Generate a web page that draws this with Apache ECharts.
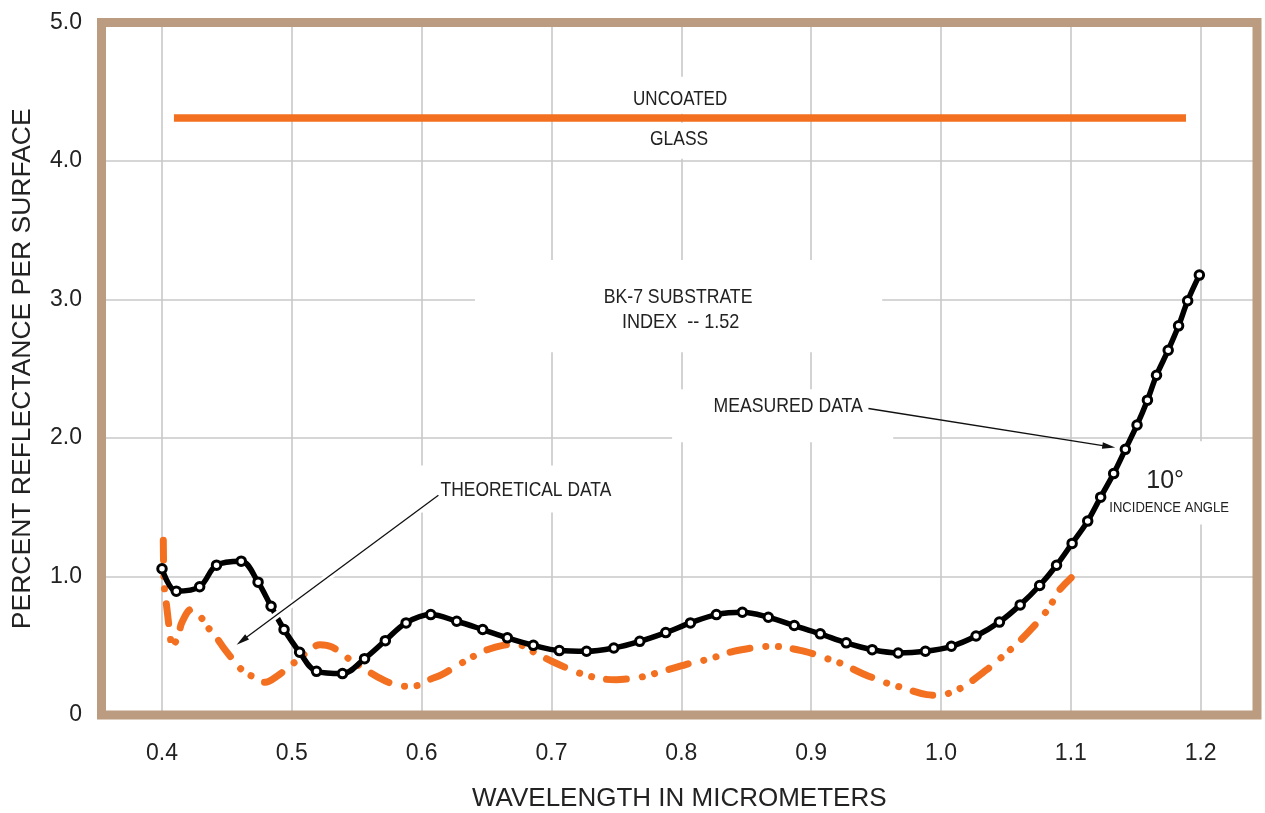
<!DOCTYPE html>
<html><head><meta charset="utf-8">
<script src="https://cdn.jsdelivr.net/npm/echarts@6/dist/echarts.min.js"></script>
<style>html,body{margin:0;padding:0;background:#fff}#c{width:1265px;height:813px}</style>
</head><body><div id="c"></div>
<script>
// ---- data ----
const xTicks = [0.4, 0.5, 0.6, 0.7, 0.8, 0.9, 1.0, 1.1, 1.2];
const yTicks = [0, 1, 2, 3, 4, 5];
const measuredX = [0.400,0.411,0.429,0.442,0.461,0.474,0.484,0.494,0.506,0.519,0.539,0.556,0.572,0.588,0.607,0.627,0.647,0.666,0.686,0.706,0.727,0.748,0.768,0.788,0.807,0.827,0.847,0.867,0.887,0.907,0.927,0.947,0.967,0.988,1.008,1.027,1.045,1.061,1.076,1.089,1.101,1.113,1.123,1.133,1.142,1.151,1.159,1.166,1.175,1.183,1.190,1.199];
const measuredY = [1.056,0.894,0.926,1.082,1.111,0.959,0.785,0.617,0.453,0.315,0.299,0.407,0.537,0.665,0.725,0.677,0.617,0.557,0.503,0.465,0.460,0.484,0.532,0.595,0.665,0.725,0.742,0.706,0.646,0.586,0.521,0.472,0.448,0.460,0.496,0.570,0.671,0.795,0.935,1.081,1.239,1.400,1.573,1.743,1.918,2.094,2.273,2.453,2.634,2.810,2.991,3.176];
const theoryX = [0.4010,0.4015,0.4023,0.4036,0.4062,0.4079,0.4126,0.4152,0.4225,0.4300,0.4357,0.4421,0.4485,0.4626,0.4696,0.4794,0.4884,0.5063,0.5127,0.5217,0.5307,0.5448,0.5577,0.5666,0.5757,0.5857,0.5962,0.6059,0.6155,0.6244,0.6424,0.6522,0.6617,0.6720,0.6912,0.7002,0.7105,0.7195,0.7400,0.7498,0.7600,0.7696,0.7901,0.8004,0.8093,0.8196,0.8401,0.8499,0.8607,0.8710,0.8915,0.9013,0.9108,0.9210,0.9416,0.9501,0.9596,0.9686,0.9891,0.9994,1.0096,1.0186,1.0354,1.0431,1.0520,1.0597,1.0739,1.0803,1.0862,1.0905,1.1003];
const theoryY = [1.262,0.964,0.877,0.783,0.581,0.496,0.573,0.665,0.762,0.705,0.629,0.557,0.472,0.315,0.279,0.236,0.279,0.412,0.460,0.508,0.492,0.400,0.322,0.272,0.231,0.208,0.212,0.255,0.291,0.340,0.436,0.477,0.501,0.512,0.429,0.388,0.344,0.308,0.260,0.255,0.262,0.275,0.328,0.356,0.380,0.400,0.460,0.477,0.492,0.496,0.467,0.443,0.412,0.380,0.291,0.260,0.226,0.202,0.147,0.142,0.171,0.212,0.328,0.388,0.460,0.525,0.665,0.738,0.821,0.894,0.991];
const uncoatedX = [0.4092, 1.1887];
const uncoatedY = [4.31, 4.31];

// ---- layout / annotations (data coordinates) ----
const X_MIN = 0.3534, X_MAX = 1.2434;
const FONT = "'Liberation Sans', Arial, sans-serif";
const TXT = '#222';
const ORANGE = '#f37021';
const notes = [
  {t:'UNCOATED', x:0.7991, y:4.443, s:21, k:0.81},
  {t:'GLASS', x:0.7983, y:4.160, s:21, k:0.83},
  {t:'BK-7 SUBSTRATE', x:0.7975, y:3.015, s:21, k:0.84},
  {t:'INDEX  -- 1.52', x:0.7995, y:2.833, s:21, k:0.86},
  {t:'MEASURED DATA', x:0.8823, y:2.231, s:21, k:0.84},
  {t:'THEORETICAL DATA', x:0.6803, y:1.625, s:21, k:0.83},
  {t:'10°', x:1.1727, y:1.689, s:25, k:1.0},
  {t:'INCIDENCE ANGLE', x:1.1757, y:1.494, s:15, k:0.87}
];
const boxes = [
  [0.7529,0.8468,4.608,4.341],
  [0.7644,0.8337,4.276,4.016],
  [0.6411,0.9547,3.285,2.620],
  [0.7929,0.9632,2.352,1.969],
  [0.5926,0.7606,1.801,1.462],
  [1.1265,1.2282,1.976,1.376]
];
const arrows = [
  {from:[0.9441,2.213], to:[1.1342,1.931], halo:false},
  {from:[0.6129,1.586], to:[0.4575,0.508], halo:true}
];

const zip = (a, b) => a.map((v, i) => [v, b[i]]);
const chart = echarts.init(document.getElementById('c'), null, {renderer:'canvas'});

const option = {
  animation: false,
  backgroundColor: '#fff',
  grid: {left: 101.5, right: 8, top: 22.5, bottom: 98, show: false, containLabel: false, outerBoundsMode: 'none'},
  xAxis: {
    type: 'value', min: X_MIN, max: X_MAX,
    name: 'WAVELENGTH IN MICROMETERS', nameLocation: 'middle', nameGap: 71,
    nameTextStyle: {fontSize: 26, color: TXT, fontFamily: FONT},
    axisLine: {show: false},
    axisTick: {show: false, customValues: xTicks},
    axisLabel: {customValues: xTicks, formatter: v => v.toFixed(1), margin: 27, fontSize: 23, color: TXT, fontFamily: FONT},
    splitLine: {show: true, lineStyle: {color: '#c8c8c8', width: 1.6}}
  },
  yAxis: {
    type: 'value', min: 0, max: 5, interval: 1,
    name: 'PERCENT REFLECTANCE PER SURFACE', nameLocation: 'middle', nameGap: 65,
    nameTextStyle: {fontSize: 26.5, color: TXT, fontFamily: FONT},
    axisLine: {show: false}, axisTick: {show: false},
    axisLabel: {formatter: v => v === 0 ? '0' : v.toFixed(1), margin: 19.5, fontSize: 23, color: TXT, fontFamily: FONT},
    splitLine: {show: true, showMinLine: false, showMaxLine: false, lineStyle: {color: '#c8c8c8', width: 1.6}}
  },
  series: [
    {
      name: 'Uncoated glass', type: 'line', z: 2, silent: true,
      data: zip(uncoatedX, uncoatedY), symbol: 'none',
      lineStyle: {color: ORANGE, width: 7.5, cap: 'butt'}
    },
    {
      name: 'Theoretical data', type: 'line', z: 2, silent: true,
      data: zip(theoryX, theoryY), symbol: 'none', smooth: 0.35,
      lineStyle: {color: ORANGE, width: 7, type: [20, 16, 0.1, 12.5, 0.1, 15], cap: 'round', join: 'round'}
    },
    {
      name: 'Measured data', type: 'line', z: 3, silent: true,
      data: zip(measuredX, measuredY), smooth: 0.35,
      symbol: 'circle', symbolSize: 8.5, showAllSymbol: true,
      itemStyle: {color: '#fff', borderColor: '#000', borderWidth: 3},
      lineStyle: {color: '#000', width: 5.5, join: 'round'}
    }
  ]
};
chart.setOption(option);

const px = p => chart.convertToPixel({gridIndex: 0}, p);
const g = [];
// plot frame
const tl = px([X_MIN, 5]), br = px([X_MAX, 0]);
g.push({type: 'rect', z: 1, silent: true,
  shape: {x: tl[0], y: tl[1], width: br[0] - tl[0], height: br[1] - tl[1]},
  style: {fill: 'none', stroke: '#bc9c80', lineWidth: 9}});
// white label boxes (hide grid lines behind texts)
boxes.forEach(b => {
  const a = px([b[0], b[2]]), c = px([b[1], b[3]]);
  g.push({type: 'rect', z: 1, silent: true,
    shape: {x: a[0], y: a[1], width: c[0] - a[0], height: c[1] - a[1]},
    style: {fill: '#fff'}});
});
// texts
notes.forEach(n => {
  const p = px([n.x, n.y]);
  g.push({type: 'text', z: 6, silent: true, x: p[0], y: p[1], scaleX: n.k,
    style: {text: n.t, fill: TXT, fontSize: n.s, fontFamily: FONT, align: 'center', verticalAlign: 'middle'}});
});
// arrows
arrows.forEach(ar => {
  const a = px(ar.from), b = px(ar.to);
  const dx = b[0] - a[0], dy = b[1] - a[1], L = Math.hypot(dx, dy), ux = dx / L, uy = dy / L;
  const hl = 13, hw = 3.2;
  const base = [b[0] - ux * hl, b[1] - uy * hl];
  if (ar.halo) {
    g.push({type: 'line', z: 4, silent: true,
      shape: {x1: a[0], y1: a[1], x2: base[0], y2: base[1]},
      style: {stroke: '#fff', lineWidth: 7}});
  }
  g.push({type: 'line', z: 6, silent: true,
    shape: {x1: a[0], y1: a[1], x2: base[0] + ux * 2, y2: base[1] + uy * 2},
    style: {stroke: '#111', lineWidth: 1.3}});
  g.push({type: 'polygon', z: 6, silent: true,
    shape: {points: [b, [base[0] - uy * hw, base[1] + ux * hw], [base[0] + uy * hw, base[1] - ux * hw]]},
    style: {fill: '#111'}});
});
chart.setOption({graphic: g});
</script></body></html>
